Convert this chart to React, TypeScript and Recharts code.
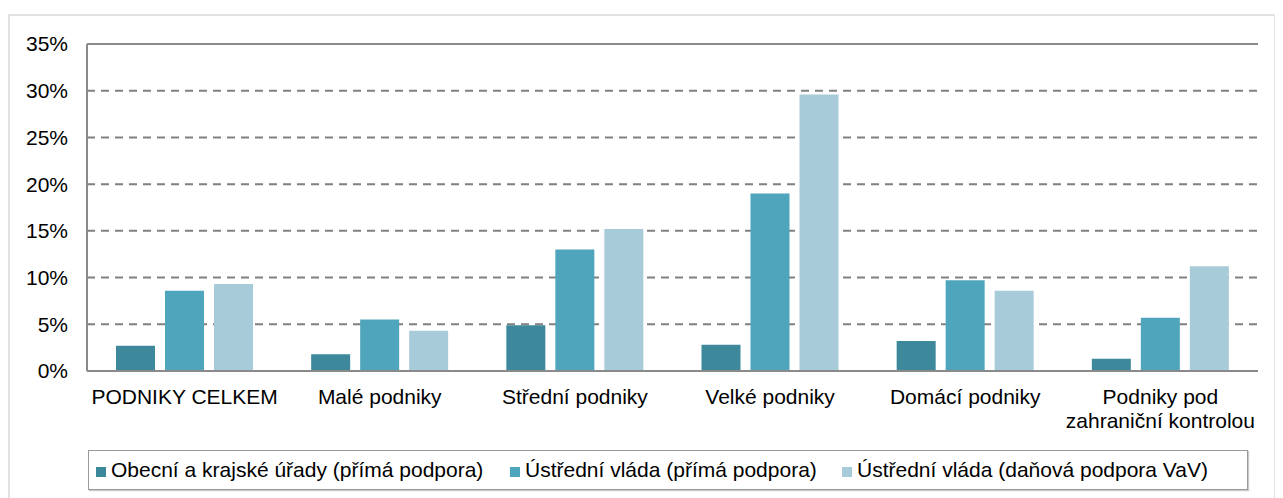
import React from "react";
import {
  BarChart,
  Bar,
  XAxis,
  YAxis,
  CartesianGrid,
  Legend,
  ReferenceLine,
} from "recharts";

const categories = [
  "PODNIKY CELKEM",
  "Malé podniky",
  "Střední podniky",
  "Velké podniky",
  "Domácí podniky",
  "Podniky pod zahraniční kontrolou",
];
const obecniKrajske = [2.7, 1.8, 4.9, 2.8, 3.2, 1.3];
const ustredniPrima = [8.6, 5.5, 13.0, 19.0, 9.7, 5.7];
const ustredniDanova = [9.3, 4.3, 15.2, 29.6, 8.6, 11.2];
const yTicks = [0, 5, 10, 15, 20, 25, 30, 35];

const seriesNames = [
  "Obecní a krajské úřady (přímá podpora)",
  "Ústřední vláda (přímá podpora)",
  "Ústřední vláda (daňová podpora VaV)",
];
const seriesColors = ["#3d889b", "#4fa5bc", "#a8cbd9"];
const legendItemWidths = [414, 332, 390];

const data = categories.map((c, i) => ({
  name: c,
  s0: obecniKrajske[i],
  s1: ustredniPrima[i],
  s2: ustredniDanova[i],
}));

const FONT = "'Liberation Sans', Arial, Helvetica, sans-serif";

function wrap(text: string, maxChars: number): string[] {
  const words = text.split(" ");
  const lines: string[] = [];
  let cur = "";
  for (const w of words) {
    const next = cur ? cur + " " + w : w;
    if (next.length > maxChars && cur) {
      lines.push(cur);
      cur = w;
    } else {
      cur = next;
    }
  }
  if (cur) lines.push(cur);
  return lines;
}

const CategoryTick = (props: any) => {
  const { x, y, payload } = props;
  const lines = wrap(String(payload.value), 20);
  return (
    <text
      x={x}
      y={y}
      textAnchor="middle"
      fill="#000"
      fontSize={21}
      fontFamily={FONT}
    >
      {lines.map((l, i) => (
        <tspan key={i} x={x} dy={i === 0 ? 15 : 24}>
          {l}
        </tspan>
      ))}
    </text>
  );
};

const LegendContent = () => (
  <div
    style={{
      boxSizing: "border-box",
      width: "100%",
      height: "100%",
      border: "1px solid #9a9a9a",
      boxShadow: "1px 1px 1px #c8c8c8",
      display: "flex",
      justifyContent: "flex-start",
      alignItems: "center",
      paddingLeft: 7,
      fontFamily: FONT,
      fontSize: 21,
      color: "#000",
      background: "#fff",
    }}
  >
    {seriesNames.map((n, i) => (
      <div
        key={n}
        style={{
          display: "flex",
          alignItems: "center",
          width: legendItemWidths[i],
          flex: "none",
        }}
      >
        <span
          style={{
            display: "inline-block",
            width: 10,
            height: 10,
            background: seriesColors[i],
            marginRight: 5,
            marginTop: 4,
          }}
        />
        <span style={{ whiteSpace: "nowrap" }}>{n}</span>
      </div>
    ))}
  </div>
);

export default function App() {
  return (
    <div style={{ paddingTop: 6 }}>
      <div
        style={{
          width: 1268,
          height: 490,
          boxSizing: "border-box",
          border: "2px solid #e2e2e2",
          background: "#fff",
          overflow: "hidden",
        }}
      >
        <BarChart
          width={1264}
          height={480}
          data={data}
          margin={{ top: 28, right: 16, bottom: 65, left: 0 }}
          barGap={10}
          barSize={39}
        >
          <CartesianGrid
            yAxisId="left"
            vertical={false}
            horizontal={{ strokeDasharray: "8 6" } as any}
            stroke="#808080"
            strokeWidth={2}
            strokeDasharray="8 6"
          />
          <XAxis
            dataKey="name"
            height={60}
            axisLine={{ stroke: "#8a8a8a", strokeWidth: 2 }}
            tickLine={false}
            tickSize={6}
            tickMargin={12}
            interval={0}
            tick={<CategoryTick />}
          />
          <YAxis
            yAxisId="left"
            width={77}
            domain={[0, 35]}
            ticks={yTicks}
            tickFormatter={(v: number) => `${v}%`}
            axisLine={{ stroke: "#8a8a8a", strokeWidth: 2 }}
            tickLine={false}
            tickSize={6}
            tickMargin={13}
            tick={{ fill: "#000", fontSize: 21, fontFamily: FONT }}
          />
          <YAxis
            yAxisId="right"
            orientation="right"
            width={0}
            domain={[0, 35]}
            ticks={yTicks}
            tick={false}
            tickLine={false}
            axisLine={{ stroke: "#8a8a8a", strokeWidth: 2 }}
          />
          <ReferenceLine
            yAxisId="left"
            y={35}
            stroke="#8a8a8a"
            strokeWidth={2}
          />
          <Bar
            yAxisId="left"
            dataKey="s0"
            name={seriesNames[0]}
            fill={seriesColors[0]}
            isAnimationActive={false}
          />
          <Bar
            yAxisId="left"
            dataKey="s1"
            name={seriesNames[1]}
            fill={seriesColors[1]}
            isAnimationActive={false}
          />
          <Bar
            yAxisId="left"
            dataKey="s2"
            name={seriesNames[2]}
            fill={seriesColors[2]}
            isAnimationActive={false}
          />
          <Legend
            layout="horizontal"
            verticalAlign="middle"
            align="center"
            content={<LegendContent />}
            wrapperStyle={{
              position: "absolute",
              left: 78,
              top: 434,
              width: 1160,
              height: 40,
            }}
          />
        </BarChart>
      </div>
    </div>
  );
}
